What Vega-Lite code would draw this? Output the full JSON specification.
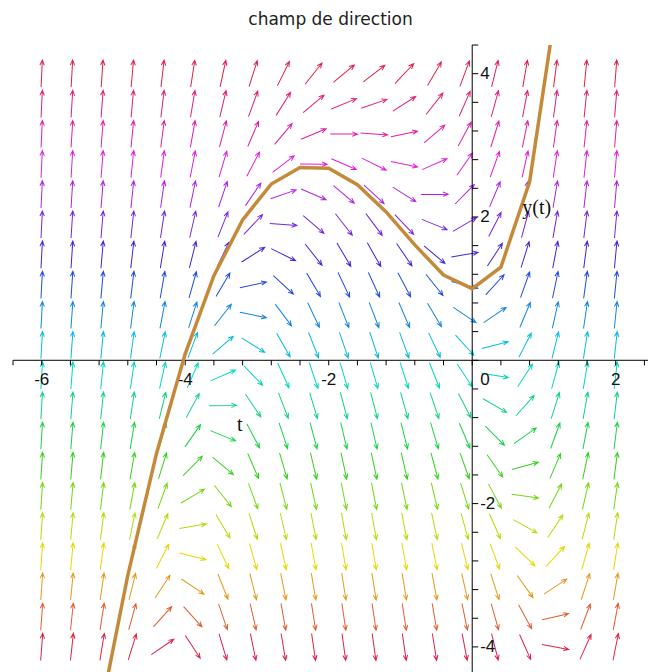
{
"$schema":"https://vega.github.io/schema/vega-lite/v6.json",
"width":635,"height":627,"autosize":{"type":"none"},
"padding":{"left":13,"top":45,"right":0,"bottom":0},
"background":"white",
"title":{"text":"champ de direction","font":"DejaVu Sans","fontSize":17,"fontWeight":"normal","color":"#222222","anchor":"middle","offset":16},
"config":{"view":{"stroke":null}},
"datasets":{
"field":[
{"t":-6,"y":-4,"d":85.6},{"t":-6,"y":-3.579,"d":85.7},{"t":-6,"y":-3.158,"d":85.9},{"t":-6,"y":-2.737,"d":86.0},{"t":-6,"y":-2.316,"d":86.1},{"t":-6,"y":-1.895,"d":86.2},{"t":-6,"y":-1.474,"d":86.3},{"t":-6,"y":-1.053,"d":86.4},{"t":-6,"y":-0.632,"d":86.5},{"t":-6,"y":-0.211,"d":86.6},{"t":-6,"y":0.211,"d":86.7},{"t":-6,"y":0.632,"d":86.8},{"t":-6,"y":1.053,"d":86.8},{"t":-6,"y":1.474,"d":86.9},{"t":-6,"y":1.895,"d":87.0},{"t":-6,"y":2.316,"d":87.0},{"t":-6,"y":2.737,"d":87.1},{"t":-6,"y":3.158,"d":87.2},{"t":-6,"y":3.579,"d":87.2},{"t":-6,"y":4,"d":87.3},
{"t":-5.579,"y":-4,"d":83.9},{"t":-5.579,"y":-3.579,"d":84.2},{"t":-5.579,"y":-3.158,"d":84.4},{"t":-5.579,"y":-2.737,"d":84.6},{"t":-5.579,"y":-2.316,"d":84.8},{"t":-5.579,"y":-1.895,"d":85.0},{"t":-5.579,"y":-1.474,"d":85.2},{"t":-5.579,"y":-1.053,"d":85.4},{"t":-5.579,"y":-0.632,"d":85.5},{"t":-5.579,"y":-0.211,"d":85.7},{"t":-5.579,"y":0.211,"d":85.8},{"t":-5.579,"y":0.632,"d":85.9},{"t":-5.579,"y":1.053,"d":86.0},{"t":-5.579,"y":1.474,"d":86.2},{"t":-5.579,"y":1.895,"d":86.3},{"t":-5.579,"y":2.316,"d":86.4},{"t":-5.579,"y":2.737,"d":86.5},{"t":-5.579,"y":3.158,"d":86.5},{"t":-5.579,"y":3.579,"d":86.6},{"t":-5.579,"y":4,"d":86.7},
{"t":-5.158,"y":-4,"d":80.7},{"t":-5.158,"y":-3.579,"d":81.3},{"t":-5.158,"y":-3.158,"d":81.8},{"t":-5.158,"y":-2.737,"d":82.3},{"t":-5.158,"y":-2.316,"d":82.7},{"t":-5.158,"y":-1.895,"d":83.1},{"t":-5.158,"y":-1.474,"d":83.4},{"t":-5.158,"y":-1.053,"d":83.7},{"t":-5.158,"y":-0.632,"d":84.0},{"t":-5.158,"y":-0.211,"d":84.2},{"t":-5.158,"y":0.211,"d":84.5},{"t":-5.158,"y":0.632,"d":84.7},{"t":-5.158,"y":1.053,"d":84.9},{"t":-5.158,"y":1.474,"d":85.1},{"t":-5.158,"y":1.895,"d":85.2},{"t":-5.158,"y":2.316,"d":85.4},{"t":-5.158,"y":2.737,"d":85.6},{"t":-5.158,"y":3.158,"d":85.7},{"t":-5.158,"y":3.579,"d":85.8},{"t":-5.158,"y":4,"d":86.0},
{"t":-4.737,"y":-4,"d":72.8},{"t":-4.737,"y":-3.579,"d":74.7},{"t":-4.737,"y":-3.158,"d":76.2},{"t":-4.737,"y":-2.737,"d":77.4},{"t":-4.737,"y":-2.316,"d":78.5},{"t":-4.737,"y":-1.895,"d":79.4},{"t":-4.737,"y":-1.474,"d":80.1},{"t":-4.737,"y":-1.053,"d":80.8},{"t":-4.737,"y":-0.632,"d":81.4},{"t":-4.737,"y":-0.211,"d":81.9},{"t":-4.737,"y":0.211,"d":82.3},{"t":-4.737,"y":0.632,"d":82.7},{"t":-4.737,"y":1.053,"d":83.1},{"t":-4.737,"y":1.474,"d":83.4},{"t":-4.737,"y":1.895,"d":83.7},{"t":-4.737,"y":2.316,"d":84.0},{"t":-4.737,"y":2.737,"d":84.3},{"t":-4.737,"y":3.158,"d":84.5},{"t":-4.737,"y":3.579,"d":84.7},{"t":-4.737,"y":4,"d":84.9},
{"t":-4.316,"y":-4,"d":34.2},{"t":-4.316,"y":-3.579,"d":47.7},{"t":-4.316,"y":-3.158,"d":56.7},{"t":-4.316,"y":-2.737,"d":62.8},{"t":-4.316,"y":-2.316,"d":67.1},{"t":-4.316,"y":-1.895,"d":70.2},{"t":-4.316,"y":-1.474,"d":72.7},{"t":-4.316,"y":-1.053,"d":74.6},{"t":-4.316,"y":-0.632,"d":76.1},{"t":-4.316,"y":-0.211,"d":77.4},{"t":-4.316,"y":0.211,"d":78.4},{"t":-4.316,"y":0.632,"d":79.3},{"t":-4.316,"y":1.053,"d":80.1},{"t":-4.316,"y":1.474,"d":80.8},{"t":-4.316,"y":1.895,"d":81.4},{"t":-4.316,"y":2.316,"d":81.9},{"t":-4.316,"y":2.737,"d":82.3},{"t":-4.316,"y":3.158,"d":82.7},{"t":-4.316,"y":3.579,"d":83.1},{"t":-4.316,"y":4,"d":83.4},
{"t":-3.895,"y":-4,"d":-56.6},{"t":-3.895,"y":-3.579,"d":-47.6},{"t":-3.895,"y":-3.158,"d":-33.9},{"t":-3.895,"y":-2.737,"d":-14.1},{"t":-3.895,"y":-2.316,"d":9.6},{"t":-3.895,"y":-1.895,"d":30.5},{"t":-3.895,"y":-1.474,"d":45.3},{"t":-3.895,"y":-1.053,"d":55.1},{"t":-3.895,"y":-0.632,"d":61.6},{"t":-3.895,"y":-0.211,"d":66.3},{"t":-3.895,"y":0.211,"d":69.6},{"t":-3.895,"y":0.632,"d":72.2},{"t":-3.895,"y":1.053,"d":74.2},{"t":-3.895,"y":1.474,"d":75.8},{"t":-3.895,"y":1.895,"d":77.1},{"t":-3.895,"y":2.316,"d":78.2},{"t":-3.895,"y":2.737,"d":79.2},{"t":-3.895,"y":3.158,"d":80.0},{"t":-3.895,"y":3.579,"d":80.6},{"t":-3.895,"y":4,"d":81.2},
{"t":-3.474,"y":-4,"d":-73.4},{"t":-3.474,"y":-3.579,"d":-71.2},{"t":-3.474,"y":-3.158,"d":-68.3},{"t":-3.474,"y":-2.737,"d":-64.4},{"t":-3.474,"y":-2.316,"d":-59.1},{"t":-3.474,"y":-1.895,"d":-51.3},{"t":-3.474,"y":-1.474,"d":-39.7},{"t":-3.474,"y":-1.053,"d":-22.2},{"t":-3.474,"y":-0.632,"d":0.8},{"t":-3.474,"y":-0.211,"d":23.5},{"t":-3.474,"y":0.211,"d":40.6},{"t":-3.474,"y":0.632,"d":51.9},{"t":-3.474,"y":1.053,"d":59.5},{"t":-3.474,"y":1.474,"d":64.7},{"t":-3.474,"y":1.895,"d":68.5},{"t":-3.474,"y":2.316,"d":71.3},{"t":-3.474,"y":2.737,"d":73.5},{"t":-3.474,"y":3.158,"d":75.3},{"t":-3.474,"y":3.579,"d":76.7},{"t":-3.474,"y":4,"d":77.9},
{"t":-3.053,"y":-4,"d":-78.3},{"t":-3.053,"y":-3.579,"d":-77.2},{"t":-3.053,"y":-3.158,"d":-76.0},{"t":-3.053,"y":-2.737,"d":-74.4},{"t":-3.053,"y":-2.316,"d":-72.4},{"t":-3.053,"y":-1.895,"d":-69.9},{"t":-3.053,"y":-1.474,"d":-66.6},{"t":-3.053,"y":-1.053,"d":-62.1},{"t":-3.053,"y":-0.632,"d":-55.8},{"t":-3.053,"y":-0.211,"d":-46.4},{"t":-3.053,"y":0.211,"d":-32.1},{"t":-3.053,"y":0.632,"d":-11.7},{"t":-3.053,"y":1.053,"d":12.1},{"t":-3.053,"y":1.474,"d":32.4},{"t":-3.053,"y":1.895,"d":46.6},{"t":-3.053,"y":2.316,"d":55.9},{"t":-3.053,"y":2.737,"d":62.2},{"t":-3.053,"y":3.158,"d":66.7},{"t":-3.053,"y":3.579,"d":70.0},{"t":-3.053,"y":4,"d":72.4},
{"t":-2.632,"y":-4,"d":-80.5},{"t":-2.632,"y":-3.579,"d":-79.8},{"t":-2.632,"y":-3.158,"d":-79.0},{"t":-2.632,"y":-2.737,"d":-78.0},{"t":-2.632,"y":-2.316,"d":-76.9},{"t":-2.632,"y":-1.895,"d":-75.5},{"t":-2.632,"y":-1.474,"d":-73.8},{"t":-2.632,"y":-1.053,"d":-71.7},{"t":-2.632,"y":-0.632,"d":-69.0},{"t":-2.632,"y":-0.211,"d":-65.4},{"t":-2.632,"y":0.211,"d":-60.4},{"t":-2.632,"y":0.632,"d":-53.2},{"t":-2.632,"y":1.053,"d":-42.5},{"t":-2.632,"y":1.474,"d":-26.4},{"t":-2.632,"y":1.895,"d":-4.3},{"t":-2.632,"y":2.316,"d":19.1},{"t":-2.632,"y":2.737,"d":37.5},{"t":-2.632,"y":3.158,"d":49.9},{"t":-2.632,"y":3.579,"d":58.1},{"t":-2.632,"y":4,"d":63.8},
{"t":-2.211,"y":-4,"d":-81.6},{"t":-2.211,"y":-3.579,"d":-81.0},{"t":-2.211,"y":-3.158,"d":-80.4},{"t":-2.211,"y":-2.737,"d":-79.7},{"t":-2.211,"y":-2.316,"d":-78.8},{"t":-2.211,"y":-1.895,"d":-77.8},{"t":-2.211,"y":-1.474,"d":-76.7},{"t":-2.211,"y":-1.053,"d":-75.2},{"t":-2.211,"y":-0.632,"d":-73.5},{"t":-2.211,"y":-0.211,"d":-71.3},{"t":-2.211,"y":0.211,"d":-68.5},{"t":-2.211,"y":0.632,"d":-64.7},{"t":-2.211,"y":1.053,"d":-59.4},{"t":-2.211,"y":1.474,"d":-51.8},{"t":-2.211,"y":1.895,"d":-40.4},{"t":-2.211,"y":2.316,"d":-23.2},{"t":-2.211,"y":2.737,"d":-0.5},{"t":-2.211,"y":3.158,"d":22.4},{"t":-2.211,"y":3.579,"d":39.8},{"t":-2.211,"y":4,"d":51.4},
{"t":-1.789,"y":-4,"d":-82.1},{"t":-1.789,"y":-3.579,"d":-81.6},{"t":-1.789,"y":-3.158,"d":-81.0},{"t":-1.789,"y":-2.737,"d":-80.4},{"t":-1.789,"y":-2.316,"d":-79.7},{"t":-1.789,"y":-1.895,"d":-78.8},{"t":-1.789,"y":-1.474,"d":-77.8},{"t":-1.789,"y":-1.053,"d":-76.7},{"t":-1.789,"y":-0.632,"d":-75.2},{"t":-1.789,"y":-0.211,"d":-73.5},{"t":-1.789,"y":0.211,"d":-71.3},{"t":-1.789,"y":0.632,"d":-68.5},{"t":-1.789,"y":1.053,"d":-64.7},{"t":-1.789,"y":1.474,"d":-59.4},{"t":-1.789,"y":1.895,"d":-51.8},{"t":-1.789,"y":2.316,"d":-40.4},{"t":-1.789,"y":2.737,"d":-23.2},{"t":-1.789,"y":3.158,"d":-0.5},{"t":-1.789,"y":3.579,"d":22.4},{"t":-1.789,"y":4,"d":39.8},
{"t":-1.368,"y":-4,"d":-82.1},{"t":-1.368,"y":-3.579,"d":-81.6},{"t":-1.368,"y":-3.158,"d":-81.1},{"t":-1.368,"y":-2.737,"d":-80.5},{"t":-1.368,"y":-2.316,"d":-79.8},{"t":-1.368,"y":-1.895,"d":-79.0},{"t":-1.368,"y":-1.474,"d":-78.0},{"t":-1.368,"y":-1.053,"d":-76.9},{"t":-1.368,"y":-0.632,"d":-75.5},{"t":-1.368,"y":-0.211,"d":-73.8},{"t":-1.368,"y":0.211,"d":-71.7},{"t":-1.368,"y":0.632,"d":-69.0},{"t":-1.368,"y":1.053,"d":-65.4},{"t":-1.368,"y":1.474,"d":-60.4},{"t":-1.368,"y":1.895,"d":-53.2},{"t":-1.368,"y":2.316,"d":-42.5},{"t":-1.368,"y":2.737,"d":-26.4},{"t":-1.368,"y":3.158,"d":-4.3},{"t":-1.368,"y":3.579,"d":19.1},{"t":-1.368,"y":4,"d":37.5},
{"t":-0.947,"y":-4,"d":-81.8},{"t":-0.947,"y":-3.579,"d":-81.3},{"t":-0.947,"y":-3.158,"d":-80.7},{"t":-0.947,"y":-2.737,"d":-80.0},{"t":-0.947,"y":-2.316,"d":-79.2},{"t":-0.947,"y":-1.895,"d":-78.3},{"t":-0.947,"y":-1.474,"d":-77.2},{"t":-0.947,"y":-1.053,"d":-76.0},{"t":-0.947,"y":-0.632,"d":-74.4},{"t":-0.947,"y":-0.211,"d":-72.4},{"t":-0.947,"y":0.211,"d":-69.9},{"t":-0.947,"y":0.632,"d":-66.6},{"t":-0.947,"y":1.053,"d":-62.1},{"t":-0.947,"y":1.474,"d":-55.8},{"t":-0.947,"y":1.895,"d":-46.4},{"t":-0.947,"y":2.316,"d":-32.1},{"t":-0.947,"y":2.737,"d":-11.7},{"t":-0.947,"y":3.158,"d":12.1},{"t":-0.947,"y":3.579,"d":32.4},{"t":-0.947,"y":4,"d":46.6},
{"t":-0.526,"y":-4,"d":-81.0},{"t":-0.526,"y":-3.579,"d":-80.3},{"t":-0.526,"y":-3.158,"d":-79.6},{"t":-0.526,"y":-2.737,"d":-78.8},{"t":-0.526,"y":-2.316,"d":-77.8},{"t":-0.526,"y":-1.895,"d":-76.6},{"t":-0.526,"y":-1.474,"d":-75.2},{"t":-0.526,"y":-1.053,"d":-73.4},{"t":-0.526,"y":-0.632,"d":-71.2},{"t":-0.526,"y":-0.211,"d":-68.3},{"t":-0.526,"y":0.211,"d":-64.4},{"t":-0.526,"y":0.632,"d":-59.1},{"t":-0.526,"y":1.053,"d":-51.3},{"t":-0.526,"y":1.474,"d":-39.7},{"t":-0.526,"y":1.895,"d":-22.2},{"t":-0.526,"y":2.316,"d":0.8},{"t":-0.526,"y":2.737,"d":23.5},{"t":-0.526,"y":3.158,"d":40.6},{"t":-0.526,"y":3.579,"d":51.9},{"t":-0.526,"y":4,"d":59.5},
{"t":-0.105,"y":-4,"d":-79.3},{"t":-0.105,"y":-3.579,"d":-78.4},{"t":-0.105,"y":-3.158,"d":-77.4},{"t":-0.105,"y":-2.737,"d":-76.1},{"t":-0.105,"y":-2.316,"d":-74.6},{"t":-0.105,"y":-1.895,"d":-72.6},{"t":-0.105,"y":-1.474,"d":-70.2},{"t":-0.105,"y":-1.053,"d":-67.0},{"t":-0.105,"y":-0.632,"d":-62.7},{"t":-0.105,"y":-0.211,"d":-56.6},{"t":-0.105,"y":0.211,"d":-47.6},{"t":-0.105,"y":0.632,"d":-33.9},{"t":-0.105,"y":1.053,"d":-14.1},{"t":-0.105,"y":1.474,"d":9.6},{"t":-0.105,"y":1.895,"d":30.5},{"t":-0.105,"y":2.316,"d":45.3},{"t":-0.105,"y":2.737,"d":55.1},{"t":-0.105,"y":3.158,"d":61.6},{"t":-0.105,"y":3.579,"d":66.3},{"t":-0.105,"y":4,"d":69.6},
{"t":0.316,"y":-4,"d":-75.8},{"t":0.316,"y":-3.579,"d":-74.2},{"t":0.316,"y":-3.158,"d":-72.2},{"t":0.316,"y":-2.737,"d":-69.6},{"t":0.316,"y":-2.316,"d":-66.2},{"t":0.316,"y":-1.895,"d":-61.6},{"t":0.316,"y":-1.474,"d":-55.0},{"t":0.316,"y":-1.053,"d":-45.2},{"t":0.316,"y":-0.632,"d":-30.3},{"t":0.316,"y":-0.211,"d":-9.3},{"t":0.316,"y":0.211,"d":14.5},{"t":0.316,"y":0.632,"d":34.2},{"t":0.316,"y":1.053,"d":47.7},{"t":0.316,"y":1.474,"d":56.7},{"t":0.316,"y":1.895,"d":62.8},{"t":0.316,"y":2.316,"d":67.1},{"t":0.316,"y":2.737,"d":70.2},{"t":0.316,"y":3.158,"d":72.7},{"t":0.316,"y":3.579,"d":74.6},{"t":0.316,"y":4,"d":76.1},
{"t":0.737,"y":-4,"d":-66.0},{"t":0.737,"y":-3.579,"d":-61.3},{"t":0.737,"y":-3.158,"d":-54.5},{"t":0.737,"y":-2.737,"d":-44.5},{"t":0.737,"y":-2.316,"d":-29.3},{"t":0.737,"y":-1.895,"d":-8.0},{"t":0.737,"y":-1.474,"d":15.6},{"t":0.737,"y":-1.053,"d":35.0},{"t":0.737,"y":-0.632,"d":48.3},{"t":0.737,"y":-0.211,"d":57.1},{"t":0.737,"y":0.211,"d":63.0},{"t":0.737,"y":0.632,"d":67.3},{"t":0.737,"y":1.053,"d":70.4},{"t":0.737,"y":1.474,"d":72.8},{"t":0.737,"y":1.895,"d":74.7},{"t":0.737,"y":2.316,"d":76.2},{"t":0.737,"y":2.737,"d":77.4},{"t":0.737,"y":3.158,"d":78.5},{"t":0.737,"y":3.579,"d":79.4},{"t":0.737,"y":4,"d":80.1},
{"t":1.158,"y":-4,"d":-10.5},{"t":1.158,"y":-3.579,"d":13.2},{"t":1.158,"y":-3.158,"d":33.3},{"t":1.158,"y":-2.737,"d":47.1},{"t":1.158,"y":-2.316,"d":56.3},{"t":1.158,"y":-1.895,"d":62.5},{"t":1.158,"y":-1.474,"d":66.9},{"t":1.158,"y":-1.053,"d":70.1},{"t":1.158,"y":-0.632,"d":72.6},{"t":1.158,"y":-0.211,"d":74.5},{"t":1.158,"y":0.211,"d":76.1},{"t":1.158,"y":0.632,"d":77.3},{"t":1.158,"y":1.053,"d":78.4},{"t":1.158,"y":1.474,"d":79.3},{"t":1.158,"y":1.895,"d":80.1},{"t":1.158,"y":2.316,"d":80.7},{"t":1.158,"y":2.737,"d":81.3},{"t":1.158,"y":3.158,"d":81.8},{"t":1.158,"y":3.579,"d":82.3},{"t":1.158,"y":4,"d":82.7},
{"t":1.579,"y":-4,"d":65.9},{"t":1.579,"y":-3.579,"d":69.3},{"t":1.579,"y":-3.158,"d":72.0},{"t":1.579,"y":-2.737,"d":74.0},{"t":1.579,"y":-2.316,"d":75.7},{"t":1.579,"y":-1.895,"d":77.0},{"t":1.579,"y":-1.474,"d":78.1},{"t":1.579,"y":-1.053,"d":79.1},{"t":1.579,"y":-0.632,"d":79.9},{"t":1.579,"y":-0.211,"d":80.6},{"t":1.579,"y":0.211,"d":81.2},{"t":1.579,"y":0.632,"d":81.7},{"t":1.579,"y":1.053,"d":82.2},{"t":1.579,"y":1.474,"d":82.6},{"t":1.579,"y":1.895,"d":83.0},{"t":1.579,"y":2.316,"d":83.3},{"t":1.579,"y":2.737,"d":83.6},{"t":1.579,"y":3.158,"d":83.9},{"t":1.579,"y":3.579,"d":84.2},{"t":1.579,"y":4,"d":84.4},
{"t":2,"y":-4,"d":78.7},{"t":2,"y":-3.579,"d":79.5},{"t":2,"y":-3.158,"d":80.3},{"t":2,"y":-2.737,"d":80.9},{"t":2,"y":-2.316,"d":81.5},{"t":2,"y":-1.895,"d":82.0},{"t":2,"y":-1.474,"d":82.4},{"t":2,"y":-1.053,"d":82.8},{"t":2,"y":-0.632,"d":83.2},{"t":2,"y":-0.211,"d":83.5},{"t":2,"y":0.211,"d":83.8},{"t":2,"y":0.632,"d":84.1},{"t":2,"y":1.053,"d":84.3},{"t":2,"y":1.474,"d":84.5},{"t":2,"y":1.895,"d":84.8},{"t":2,"y":2.316,"d":84.9},{"t":2,"y":2.737,"d":85.1},{"t":2,"y":3.158,"d":85.3},{"t":2,"y":3.579,"d":85.5},{"t":2,"y":4,"d":85.6}
],
"curve":[
{"t":-5.6,"y":-7.34},{"t":-5.2,"y":-5.01},{"t":-4.8,"y":-3.0},{"t":-4.4,"y":-1.3},{"t":-4,"y":0.09},{"t":-3.6,"y":1.18},{"t":-3.2,"y":1.96},{"t":-2.8,"y":2.46},{"t":-2.4,"y":2.69},{"t":-2,"y":2.68},{"t":-1.6,"y":2.45},{"t":-1.2,"y":2.07},{"t":-0.8,"y":1.61},{"t":-0.4,"y":1.19},{"t":0,"y":1},{"t":0.4,"y":1.3},{"t":0.8,"y":2.49},{"t":1.2,"y":5.16}
],
"xticks":[{"v":-6.4},{"v":-6},{"v":-5.6},{"v":-5.2},{"v":-4.8},{"v":-4.4},{"v":-4},{"v":-3.6},{"v":-3.2},{"v":-2.8},{"v":-2.4},{"v":-2},{"v":-1.6},{"v":-1.2},{"v":-0.8},{"v":-0.4},{"v":0},{"v":0.4},{"v":0.8},{"v":1.2},{"v":1.6},{"v":2},{"v":2.4}],
"yticks":[{"v":-4},{"v":-3.6},{"v":-3.2},{"v":-2.8},{"v":-2.4},{"v":-2},{"v":-1.6},{"v":-1.2},{"v":-0.8},{"v":-0.4},{"v":0},{"v":0.4},{"v":0.8},{"v":1.2},{"v":1.6},{"v":2},{"v":2.4},{"v":2.8},{"v":3.2},{"v":3.6},{"v":4},{"v":4.4}],
"xlabels":[{"v":-6,"lab":"-6"},{"v":-4,"lab":"-4"},{"v":-2,"lab":"-2"},{"v":2,"lab":"2"}],
"ylabels":[{"v":-4,"lab":"-4"},{"v":-2,"lab":"-2"},{"v":2,"lab":"2"},{"v":4,"lab":"4"}]
},
"layer":[
{"data":{"name":"field"},
 "mark":{"type":"point","shape":"M-1,0L1,0M0.62,-0.16L1,0L0.62,0.16","filled":false,"size":740,"strokeWidth":1,"opacity":1},
 "encoding":{
  "x":{"field":"t","type":"quantitative","scale":{"domain":[-6.4,2.45],"nice":false,"zero":false},"axis":null},
  "y":{"field":"y","type":"quantitative","scale":{"domain":[-4.35,4.4],"nice":false,"zero":false},"axis":null},
  "angle":{"field":"d","type":"quantitative","scale":{"domain":[-100,100],"range":[100,-100],"nice":false,"zero":false},"legend":null},
  "color":{"field":"y","type":"quantitative","legend":null,
   "scale":{"domain":[-4,-2.6667,-1.3333,0,1.3333,2.6667,4],"range":["#e0204a","#e8e000","#20d020","#00d8d8","#2828e0","#e020e0","#e0204a"],"interpolate":"rgb"}}
 }},
{"data":{"values":[{}]},
 "mark":{"type":"rule","color":"#000000","strokeWidth":1},
 "encoding":{"y":{"datum":0,"type":"quantitative","scale":{"domain":[-4.35,4.4],"nice":false,"zero":false},"axis":null}}},
{"data":{"values":[{}]},
 "mark":{"type":"rule","color":"#000000","strokeWidth":1},
 "encoding":{"x":{"datum":0,"type":"quantitative","scale":{"domain":[-6.4,2.45],"nice":false,"zero":false},"axis":null}}},
{"data":{"name":"xticks"},
 "mark":{"type":"rule","color":"#000000","strokeWidth":1},
 "encoding":{
  "x":{"field":"v","type":"quantitative","scale":{"domain":[-6.4,2.45],"nice":false,"zero":false},"axis":null},
  "y":{"datum":0,"type":"quantitative","scale":{"domain":[-4.35,4.4],"nice":false,"zero":false},"axis":null},
  "y2":{"datum":-0.07}
 }},
{"data":{"name":"yticks"},
 "mark":{"type":"rule","color":"#000000","strokeWidth":1},
 "encoding":{
  "y":{"field":"v","type":"quantitative","scale":{"domain":[-4.35,4.4],"nice":false,"zero":false},"axis":null},
  "x":{"datum":0,"type":"quantitative","scale":{"domain":[-6.4,2.45],"nice":false,"zero":false},"axis":null},
  "x2":{"datum":0.084}
 }},
{"data":{"name":"xlabels"},
 "mark":{"type":"text","font":"Liberation Sans","fontSize":17,"color":"#111111","align":"center","baseline":"middle","dy":20},
 "encoding":{
  "x":{"field":"v","type":"quantitative","scale":{"domain":[-6.4,2.45],"nice":false,"zero":false},"axis":null},
  "y":{"datum":0,"type":"quantitative","scale":{"domain":[-4.35,4.4],"nice":false,"zero":false},"axis":null},
  "text":{"field":"lab"}
 }},
{"data":{"values":[{"lab":"0"}]},
 "mark":{"type":"text","font":"Liberation Sans","fontSize":17,"color":"#111111","align":"left","baseline":"middle","dy":20,"dx":8},
 "encoding":{
  "x":{"datum":0,"type":"quantitative","scale":{"domain":[-6.4,2.45],"nice":false,"zero":false},"axis":null},
  "y":{"datum":0,"type":"quantitative","scale":{"domain":[-4.35,4.4],"nice":false,"zero":false},"axis":null},
  "text":{"field":"lab"}
 }},
{"data":{"name":"ylabels"},
 "mark":{"type":"text","font":"Liberation Sans","fontSize":17,"color":"#111111","align":"left","baseline":"middle","dx":8},
 "encoding":{
  "y":{"field":"v","type":"quantitative","scale":{"domain":[-4.35,4.4],"nice":false,"zero":false},"axis":null},
  "x":{"datum":0,"type":"quantitative","scale":{"domain":[-6.4,2.45],"nice":false,"zero":false},"axis":null},
  "text":{"field":"lab"}
 }},
{"data":{"name":"curve"},
 "mark":{"type":"line","clip":true,"color":"#c48a3a","strokeWidth":3.5},
 "encoding":{
  "x":{"field":"t","type":"quantitative","scale":{"domain":[-6.4,2.45],"nice":false,"zero":false},"axis":null},
  "y":{"field":"y","type":"quantitative","scale":{"domain":[-4.35,4.4],"nice":false,"zero":false},"axis":null}
 }},
{"data":{"values":[{"label":"t"}]},
 "mark":{"type":"text","font":"Liberation Serif","fontSize":20,"color":"#111111","align":"center","baseline":"middle"},
 "encoding":{
  "x":{"datum":-3.24,"type":"quantitative","scale":{"domain":[-6.4,2.45],"nice":false,"zero":false},"axis":null},
  "y":{"datum":-0.9,"type":"quantitative","scale":{"domain":[-4.35,4.4],"nice":false,"zero":false},"axis":null},
  "text":{"field":"label"}
 }},
{"data":{"values":[{"label":"y(t)"}]},
 "mark":{"type":"text","font":"Liberation Serif","fontSize":20,"color":"#111111","align":"center","baseline":"middle"},
 "encoding":{
  "x":{"datum":0.9,"type":"quantitative","scale":{"domain":[-6.4,2.45],"nice":false,"zero":false},"axis":null},
  "y":{"datum":2.12,"type":"quantitative","scale":{"domain":[-4.35,4.4],"nice":false,"zero":false},"axis":null},
  "text":{"field":"label"}
 }}
]
}
